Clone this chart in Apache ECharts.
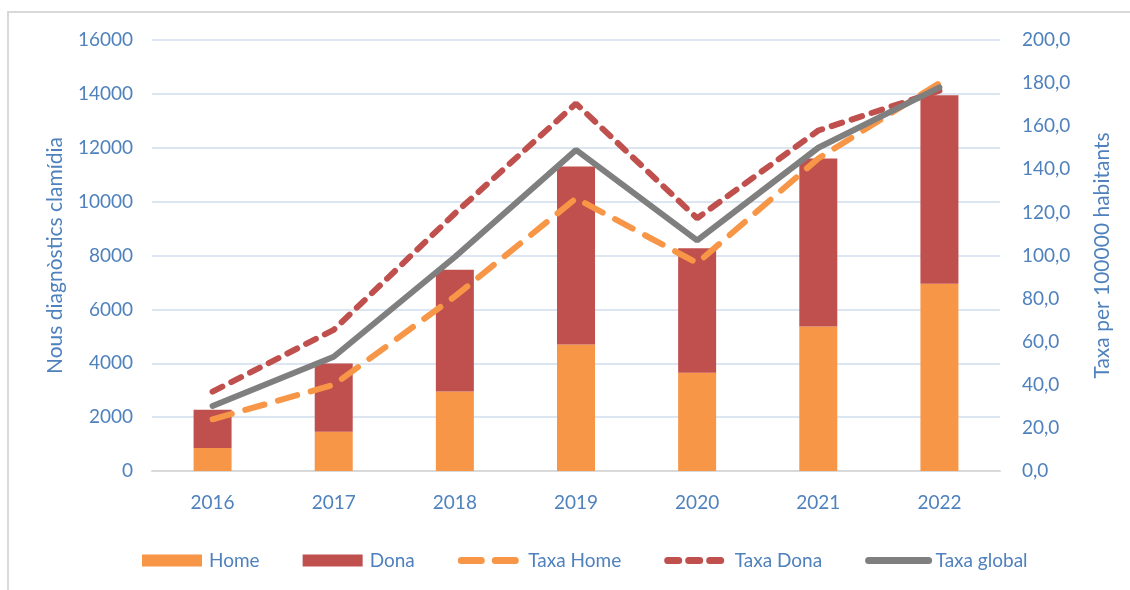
<!DOCTYPE html>
<html>
<head>
<meta charset="utf-8">
<script src="https://cdn.jsdelivr.net/npm/echarts@6/dist/echarts.min.js"></script>
<style>
  html, body { margin: 0; padding: 0; background: #fff; overflow: hidden; }
  .frame { position: absolute; left: 7px; top: 11px; width: 1130px; height: 600px; border: 2px solid #d9d9d9; box-sizing: border-box; }
  #chart { position: absolute; left: 0; top: 0; width: 1130px; height: 590px; }
</style>
</head>
<body>
<div class="frame"></div>
<div id="chart"></div>
<script>
const years = ['2016', '2017', '2018', '2019', '2020', '2021', '2022'];
const home = [850, 1460, 2950, 4700, 3650, 5360, 6950];
const dona = [1420, 2530, 4520, 6600, 4620, 6240, 7000];
const taxaHome = [24.0, 40.0, 81.0, 126.5, 96.5, 145.0, 180.0];
const taxaDona = [36.8, 65.5, 119.5, 170.5, 117.3, 158.0, 176.5];
const taxaGlobal = [30.2, 53.0, 99.3, 149.0, 107.0, 150.0, 178.0];

const blue = '#4f81bd';
const font = 'Lato, "Open Sans", sans-serif';
const noSymbol = { opacity: 0 };

const chart = echarts.init(document.getElementById('chart'));
chart.setOption({
  backgroundColor: 'transparent',
  textStyle: { fontFamily: font },
  grid: { left: 152, right: 130, top: 40, bottom: 119 },
  legend: {
    top: 546,
    left: 137,
    itemWidth: 60,
    itemHeight: 12,
    itemGap: 43,
    lineStyle: { width: 7, cap: 'round' },
    textStyle: { color: blue, fontSize: 19, fontFamily: font, padding: [0, 0, 0, 2] },
    data: [
      { name: 'Home', icon: 'rect' },
      { name: 'Dona', icon: 'rect' },
      { name: 'Taxa Home', itemStyle: noSymbol },
      { name: 'Taxa Dona', itemStyle: noSymbol },
      { name: 'Taxa global', itemStyle: noSymbol }
    ]
  },
  xAxis: {
    type: 'category',
    data: years,
    axisLine: { lineStyle: { color: '#d9d9d9', width: 2 } },
    axisTick: { alignWithLabel: true, length: 6, lineStyle: { color: '#d9d9d9', width: 2 } },
    axisLabel: { color: blue, fontSize: 19, margin: 22 }
  },
  yAxis: [
    {
      type: 'value',
      min: 0, max: 16000, interval: 2000,
      name: 'Nous diagnòstics clamídia',
      nameLocation: 'middle',
      nameRotate: 90,
      nameGap: 86,
      nameTextStyle: { color: blue, fontSize: 21 },
      axisLine: { show: false },
      axisTick: { show: false },
      axisLabel: { color: blue, fontSize: 19, margin: 19, formatter: v => String(v) },
      splitLine: { lineStyle: { color: '#dce6f2', width: 2 } }
    },
    {
      type: 'value',
      min: 0, max: 200, interval: 20,
      name: 'Taxa per 100000 habitants',
      nameLocation: 'middle',
      nameRotate: 90,
      nameGap: 92,
      nameTextStyle: { color: blue, fontSize: 21 },
      axisLine: { show: false },
      axisTick: { show: false },
      axisLabel: {
        color: blue, fontSize: 19, margin: 22,
        formatter: v => v.toFixed(1).replace('.', ',')
      },
      splitLine: { show: false }
    }
  ],
  series: [
    {
      name: 'Home', type: 'bar', stack: 'n', data: home,
      barWidth: 38, itemStyle: { color: '#f79646' }
    },
    {
      name: 'Dona', type: 'bar', stack: 'n', data: dona,
      barWidth: 38, itemStyle: { color: '#c0504d' }
    },
    {
      name: 'Taxa Home', type: 'line', yAxisIndex: 1, data: taxaHome,
      symbol: 'none', itemStyle: { color: '#f79646' },
      lineStyle: { color: '#f79646', width: 6, type: [20, 14], cap: 'round' }
    },
    {
      name: 'Taxa Dona', type: 'line', yAxisIndex: 1, data: taxaDona,
      symbol: 'none', itemStyle: { color: '#c0504d' },
      lineStyle: { color: '#c0504d', width: 6, type: [11, 10], cap: 'round' }
    },
    {
      name: 'Taxa global', type: 'line', yAxisIndex: 1, data: taxaGlobal,
      symbol: 'none', itemStyle: { color: '#7f7f7f' },
      lineStyle: { color: '#7f7f7f', width: 6, cap: 'round' }
    }
  ]
});
</script>
</body>
</html>
